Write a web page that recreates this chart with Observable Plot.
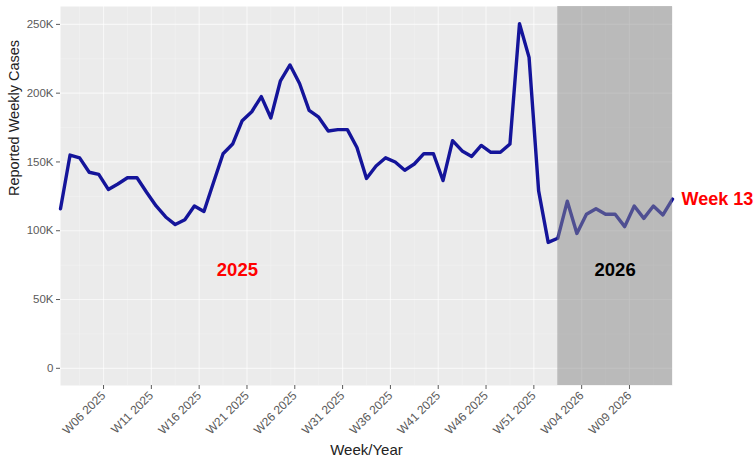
<!DOCTYPE html>
<html>
<head>
<meta charset="utf-8">
<script src="https://cdn.jsdelivr.net/npm/d3@7"></script>
<script src="https://cdn.jsdelivr.net/npm/@observablehq/plot@0.6"></script>
<style>
  html, body { margin: 0; padding: 0; background: #ffffff; }
  #chart { width: 756px; height: 464px; }
</style>
</head>
<body>
<div id="chart"></div>
<script>
// Weekly reported cases, W01 2025 .. W13 2026
const cases = [
  116000,155000,153000,142500,141000,130000,134000,138500,138500,128000,
  118000,110000,104500,108000,118000,114000,135000,156000,163000,180000,
  186500,197500,182000,209000,220500,207000,187500,182500,172500,173500,
  173500,160500,138000,147000,153000,150000,144000,148500,156000,156000,
  136500,165500,158000,154000,162000,157000,157000,163000,250500,226000,
  129000,91500,94500,121500,98000,112000,116000,112000,112000,103000,
  118000,109000,118000,111500,123000
];
// Week/Year category for each value
const weekLabels = [];
for (let w = 1; w <= 52; w++) weekLabels.push("W" + String(w).padStart(2, "0") + " 2025");
for (let w = 1; w <= 13; w++) weekLabels.push("W" + String(w).padStart(2, "0") + " 2026");

// x tick labels shown on the axis
const tickLabels = ["W06 2025","W11 2025","W16 2025","W21 2025","W26 2025","W31 2025",
                    "W36 2025","W41 2025","W46 2025","W51 2025","W04 2026","W09 2026"];
// y ticks
const yTicks = [0, 50000, 100000, 150000, 200000, 250000];
const yMinor = [25000, 75000, 125000, 175000, 225000];

// shaded period (2026) and annotation labels
const shadeStart = "W01 2026";
const lastLabel = "Week 13";

const data = cases.map((v, i) => ({i, week: weekLabels[i], v}));
const tickPos = tickLabels.map(l => weekLabels.indexOf(l) - 0.5);
const xMinor = tickPos.map(p => p - 2.5).concat([tickPos[tickPos.length - 1] + 2.5]);
const nLast = data.length - 1;
const s0 = weekLabels.indexOf(shadeStart);

const chart = Plot.plot({
  width: 756,
  height: 464,
  marginLeft: 60,
  marginRight: 84,
  marginTop: 6,
  marginBottom: 79,
  style: {fontFamily: "'Liberation Sans', Arial, sans-serif", background: "#ffffff"},
  x: {domain: [0, nLast], axis: null},
  y: {domain: [-12500, 263000], axis: null},
  marks: [
    Plot.frame({fill: "#ebebeb", stroke: null}),
    Plot.ruleY(yMinor, {stroke: "#ffffff", strokeWidth: 0.6, strokeOpacity: 0.4}),
    Plot.ruleY(yTicks, {stroke: "#ffffff", strokeWidth: 1.2, strokeOpacity: 0.6}),
    Plot.ruleX(xMinor.filter(p => p >= 0 && p <= nLast), {stroke: "#ffffff", strokeWidth: 0.6, strokeOpacity: 0.4}),
    Plot.ruleX(tickPos, {stroke: "#ffffff", strokeWidth: 1.2, strokeOpacity: 0.6}),
    Plot.line(data, {x: "i", y: "v", stroke: "#14149a", strokeWidth: 3.4, strokeLinejoin: "round"}),
    Plot.rect([{a: s0, b: nLast}], {x1: "a", x2: "b", fill: "#8a8a8a", fillOpacity: 0.5}),
    Plot.text([data[nLast]], {x: "i", y: "v", text: () => lastLabel, textAnchor: "start", dx: 9,
      fill: "#ff0000", fontWeight: "bold", fontSize: 18}),
    Plot.text([{x: 18.5, y: 71500, t: "2025"}], {x: "x", y: "y", text: "t",
      fill: "#ff0000", fontWeight: "bold", fontSize: 18.5}),
    Plot.text([{x: (s0 + nLast) / 2, y: 71500, t: "2026"}], {x: "x", y: "y", text: "t",
      fill: "#000000", fontWeight: "bold", fontSize: 18.5}),
    Plot.axisY({ticks: yTicks, tickFormat: d => d === 0 ? "0" : (d / 1000) + "K",
      tickSize: 4, tickPadding: 3, fontSize: 11.5, color: "#5a5a5a", label: null}),
    Plot.axisX({ticks: tickPos, tickFormat: (d, k) => tickLabels[k], tickRotate: -45,
      tickSize: 4, tickPadding: 4, fontSize: 12, color: "#5a5a5a", label: null}),
    Plot.text([lastLabel], {frameAnchor: "bottom", dy: 69, text: () => "Week/Year",
      fontSize: 15, fill: "#222222", lineAnchor: "bottom"}),
    Plot.text([lastLabel], {frameAnchor: "left", dx: -46, rotate: -90, text: () => "Reported Weekly Cases",
      fontSize: 14.5, fill: "#222222", lineAnchor: "middle"})
  ]
});
document.getElementById("chart").appendChild(chart);
</script>
</body>
</html>
